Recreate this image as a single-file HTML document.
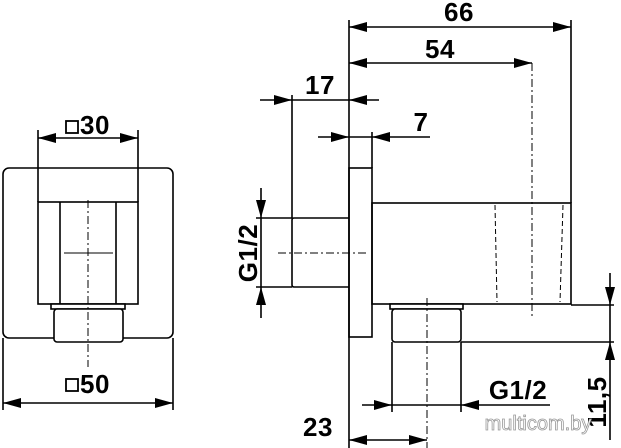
<!DOCTYPE html>
<html><head><meta charset="utf-8"><style>
html,body{margin:0;padding:0;background:#fff;}
svg{display:block;}
text{font-family:"Liberation Sans",Arial,sans-serif;font-weight:bold;fill:#000;}
</style></head><body>
<svg width="621" height="448" viewBox="0 0 621 448" xmlns="http://www.w3.org/2000/svg">
<g stroke="#000" stroke-width="1.6" fill="none">
<!-- left view -->
<rect x="3" y="168" width="170" height="170" rx="6"/>
<rect x="38" y="202" width="100" height="102"/>
<line x1="60" y1="202" x2="60" y2="304"/>
<line x1="116" y1="202" x2="116" y2="304"/>
<rect x="51" y="304" width="74" height="5" fill="#fff"/>
<rect x="54" y="309" width="69" height="33" rx="3" fill="#fff"/>
<line x1="88" y1="200" x2="88" y2="367" stroke-dasharray="8,3,2,3" stroke-width="1"/>
<line x1="64" y1="253" x2="113" y2="253" stroke-width="1"/>
<line x1="38" y1="130" x2="38" y2="202"/>
<line x1="138" y1="130" x2="138" y2="202"/>
<line x1="38" y1="138" x2="138" y2="138"/>
<line x1="3" y1="338" x2="3" y2="410"/>
<line x1="173" y1="338" x2="173" y2="410"/>
<line x1="3" y1="403" x2="173" y2="403"/>
<rect x="66" y="121" width="12" height="12" stroke-width="1.8"/>
<rect x="66" y="379" width="12" height="12" stroke-width="1.8"/>
<!-- right view -->
<line x1="349" y1="20" x2="349" y2="448"/>
<line x1="571" y1="20" x2="571" y2="203"/>
<line x1="349" y1="27" x2="571" y2="27"/>
<line x1="349" y1="63" x2="532" y2="63"/>
<line x1="532" y1="63" x2="532" y2="318" stroke-dasharray="8,3,2,3" stroke-width="1"/>
<line x1="260" y1="100" x2="379" y2="100"/>
<line x1="292" y1="95" x2="292" y2="218"/>
<line x1="318" y1="137" x2="430" y2="137"/>
<line x1="372" y1="132" x2="372" y2="168"/>
<rect x="349" y="168" width="23" height="169"/>
<path d="M349 218 H294 Q292 218 292 220 V285 Q292 287 294 287 H349"/>
<line x1="278" y1="253" x2="366" y2="253" stroke-dasharray="8,3,2,3" stroke-width="1"/>
<rect x="372" y="203" width="199" height="101"/>
<line x1="495" y1="205" x2="497" y2="302" stroke-dasharray="5,3" stroke-width="1"/>
<line x1="563" y1="205" x2="560" y2="302" stroke-dasharray="5,3" stroke-width="1"/>
<rect x="390" y="304" width="73" height="5" fill="#fff"/>
<rect x="392" y="309" width="69" height="33" rx="3" fill="#fff"/>
<line x1="427" y1="298" x2="427" y2="448" stroke-dasharray="8,3,2,3" stroke-width="1"/>
<line x1="571" y1="305" x2="614" y2="305"/>
<line x1="461" y1="342" x2="614" y2="342"/>
<line x1="610" y1="273" x2="610" y2="440"/>
<line x1="362" y1="405" x2="550" y2="405"/>
<line x1="392" y1="342" x2="392" y2="412"/>
<line x1="461" y1="342" x2="461" y2="412"/>
<line x1="349" y1="440" x2="427" y2="440"/>
<line x1="261" y1="188" x2="261" y2="318"/>
<line x1="256" y1="218" x2="292" y2="218"/>
<line x1="256" y1="287" x2="292" y2="287"/>
</g>
<g fill="#000">
<polygon points="349,27 367,22 367,32"/><polygon points="571,27 553,22 553,32"/>
<polygon points="349,63 367,58 367,68"/><polygon points="532,63 514,58 514,68"/>
<polygon points="292,100 274,95 274,105"/><polygon points="349,100 367,95 367,105"/>
<polygon points="349,137 331,132 331,142"/><polygon points="372,137 390,132 390,142"/>
<polygon points="261,218 256,200 266,200"/><polygon points="261,287 256,305 266,305"/>
<polygon points="610,305 605,287 615,287"/><polygon points="610,342 605,360 615,360"/>
<polygon points="392,405 374,400 374,410"/><polygon points="461,405 479,400 479,410"/>
<polygon points="349,440 367,435 367,445"/><polygon points="427,440 409,435 409,445"/>
<polygon points="38,138 56,133 56,143"/><polygon points="138,138 120,133 120,143"/>
<polygon points="3,403 21,398 21,408"/><polygon points="173,403 155,398 155,408"/>
</g>
<g font-size="26" letter-spacing="0.5">
<text x="459" y="21" text-anchor="middle">66</text>
<text x="440" y="58" text-anchor="middle">54</text>
<text x="320" y="94" text-anchor="middle">17</text>
<text x="421" y="131" text-anchor="middle">7</text>
<text x="518" y="399" text-anchor="middle">G1/2</text>
<text x="318" y="436" text-anchor="middle">23</text>
<text x="80" y="134">30</text>
<text x="80" y="393">50</text>
<text transform="translate(257,253) rotate(-90)" text-anchor="middle">G1/2</text>
<text transform="translate(606,402) rotate(-90)" text-anchor="middle">11,5</text>
</g>
<text x="538" y="430" text-anchor="middle" font-size="20" style="fill:#fff;stroke:#999;stroke-width:0.8;font-weight:normal">multicom.by</text>
</svg>
</body></html>
